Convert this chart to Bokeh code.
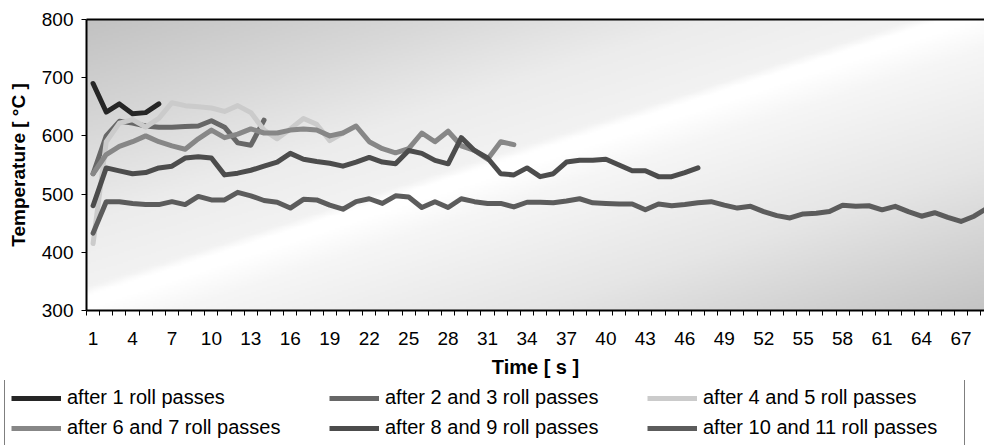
import numpy as np
from bokeh.plotting import figure
from bokeh.layouts import column
from bokeh.models import Range1d, FixedTicker, Legend, LegendItem, LinearAxis
from bokeh.embed import file_html
from bokeh.resources import INLINE

# ---------------- data ----------------
time_s = list(range(1, 70))
x_tick_labels = list(range(1, 68, 3))
y_ticks = [300, 400, 500, 600, 700, 800]

after_1 = [690, 641, 655, 638, 640, 655]
after_2_3 = [535, 600, 625, 622, 617, 615, 615, 616, 617, 626, 615, 588, 584, 627]
after_4_5 = [415, 590, 622, 628, 615, 630, 657, 652, 650, 648, 642, 652, 640, 610,
             595, 612, 630, 620, 592, 605]
after_6_7 = [535, 568, 582, 590, 600, 590, 583, 577, 595, 610, 597, 603, 612, 605,
             605, 610, 612, 610, 600, 605, 617, 590, 578, 571, 578, 605, 590, 608,
             583, 575, 560, 590, 585]
after_8_9 = [480, 545, 540, 535, 537, 545, 548, 562, 564, 562, 533, 536, 541, 548,
             555, 570, 560, 556, 553, 548, 555, 563, 555, 552, 575, 570, 558, 552,
             597, 575, 562, 535, 533, 545, 530, 535, 555, 558, 558, 560, 550, 540,
             540, 530, 530, 537, 545]
after_10_11 = [433, 487, 487, 484, 482, 482, 487, 482, 496, 490, 490, 503, 497, 489,
               486, 476, 491, 490, 481, 474, 487, 492, 484, 497, 495, 477, 487, 477,
               492, 487, 484, 484, 478, 486, 486, 485, 488, 492, 485, 484, 483, 483,
               473, 483, 480, 482, 485, 487, 481, 476, 479, 470, 463, 459, 466, 467,
               470, 481, 479, 480, 473, 479, 470, 462, 468, 460, 453, 462, 476]

names = ["after 1 roll passes", "after 2 and 3 roll passes", "after 4 and 5 roll passes",
         "after 6 and 7 roll passes", "after 8 and 9 roll passes", "after 10 and 11 roll passes"]
values = [after_1, after_2_3, after_4_5, after_6_7, after_8_9, after_10_11]
colors = ["#262626", "#676767", "#cbcbcb", "#878787", "#4c4c4c", "#5c5c5c"]

FONT = "Liberation Sans"

x0, x1 = 0.5, 68.79
p = figure(width=984, height=380, output_backend="svg", toolbar_location=None,
           x_range=Range1d(x0, x1), y_range=Range1d(300, 800),
           min_border_left=86, min_border_top=19, min_border_right=0, min_border_bottom=69,
           background_fill_color="white", border_fill_color="white")
p.outline_line_color = None
p.frame_align = False

# background gradient (decoration)
H, W = 160, 480
u = np.linspace(0, 1, W)[None, :]
v = 1 - np.linspace(0, 1, H)[:, None]
s = (u + v) / 2
g = np.interp(s, [0.0, 0.2, 0.345, 0.46, 0.475, 0.50, 0.55, 0.75, 1.0],
              [0.76, 0.85, 0.925, 0.95, 1.0, 1.0, 0.965, 0.90, 0.77])
gi = (g * 255).astype(np.uint32)
img = (255 << 24) | (gi << 16) | (gi << 8) | gi
p.image_rgba(image=[img.astype(np.uint32)], x=x0, y=300, dw=x1 - x0, dh=500)

# lines
for vals, col in zip(values, colors):
    p.line(time_s[:len(vals)], vals, line_color=col, line_width=5,
           line_join="round", line_cap="round")

# grid
p.xgrid.visible = False
p.ygrid.ticker = FixedTicker(ticks=y_ticks)
p.ygrid.grid_line_color = "#3a3a3a"
p.ygrid.grid_line_width = 1

# x axis
xa = p.xaxis[0]
xa.ticker = FixedTicker(ticks=x_tick_labels, minor_ticks=[k + 0.5 for k in range(0, 69)])
xa.major_tick_out = 0
xa.major_tick_in = 0
xa.minor_tick_out = 5
xa.minor_tick_in = 0
xa.minor_tick_line_color = "black"
xa.axis_line_color = "black"
xa.axis_line_width = 2
xa.major_label_standoff = 16
xa.major_label_text_font = FONT
xa.major_label_text_font_size = "19px"
xa.major_label_text_color = "black"
xa.axis_label = "Time [ s ]"
xa.axis_label_text_font = FONT
xa.axis_label_text_font_style = "bold"
xa.axis_label_text_font_size = "20px"
xa.axis_label_text_color = "black"
xa.axis_label_standoff = 8

# y axis
ya = p.yaxis[0]
ya.ticker = FixedTicker(ticks=y_ticks)
ya.major_tick_out = 5
ya.major_tick_in = 0
ya.minor_tick_line_color = None
ya.major_tick_line_color = "black"
ya.axis_line_color = "black"
ya.axis_line_width = 2
ya.major_label_standoff = 8
ya.major_label_text_font = FONT
ya.major_label_text_font_size = "19px"
ya.major_label_text_color = "black"
ya.axis_label = "Temperature [ °C ]"
ya.axis_label_text_font = FONT
ya.axis_label_text_font_style = "bold"
ya.axis_label_text_font_size = "19px"
ya.axis_label_text_color = "black"
ya.axis_label_standoff = 10

# top border line
top = LinearAxis(ticker=FixedTicker(ticks=[]), axis_line_color="black", axis_line_width=2,
                 major_tick_line_color=None, minor_tick_line_color=None,
                 major_label_text_font_size="0px")
p.add_layout(top, "above")

# legend strip
q = figure(width=984, height=65, output_backend="svg", toolbar_location=None,
           x_range=Range1d(0, 1), y_range=Range1d(0, 1),
           x_axis_location=None, y_axis_location=None,
           min_border=0, background_fill_color="white", border_fill_color="white")
q.outline_line_color = None
q.grid.visible = False
q.frame_align = False
nan = [float("nan")]
leg_renderers = [q.line(nan, nan, line_color=c, line_width=5) for c in colors]
items = [LegendItem(label=n, renderers=[r]) for n, r in zip(names, leg_renderers)]
legend = Legend(items=items, ncols=3, orientation="horizontal", location=(4, -1),
                margin=0, padding=6, spacing=7, glyph_width=50, glyph_height=20,
                label_height=20, label_width=255, label_standoff=6,
                label_text_font=FONT, label_text_font_size="20px", label_text_color="black",
                border_line_color="black", border_line_width=1,
                background_fill_color="white", background_fill_alpha=1.0)
q.add_layout(legend, "center")

layout = column(p, q, spacing=0)
open("out.html", "w").write(file_html(layout, INLINE))
